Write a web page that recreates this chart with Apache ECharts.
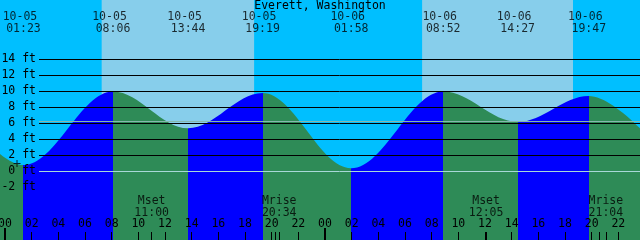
<!DOCTYPE html>
<html><head><meta charset="utf-8">
<script src="https://cdn.jsdelivr.net/npm/echarts@6/dist/echarts.min.js"></script>
<style>html,body{margin:0;padding:0;background:#00BFFF}#c{width:640px;height:240px}</style>
</head><body><div id="c"></div>
<script>
// ---------- data ----------
const chartTitle = 'Everett, Washington';
const extremaDates = ['10-05','10-05','10-05','10-05','10-06','10-06','10-06','10-06'];
const extremaTimes = ['01:23','08:06','13:44','19:19','01:58','08:52','14:27','19:47'];
const extremaHeights = [0.8, 10.0, 5.4, 9.8, 0.4, 10.0, 6.2, 9.45];
// estimated extrema just outside the visible window (hours from 10-05 00:00, ft)
const prevExtremum = [-4.5, 10.2];
const nextExtremum = [50.6, -0.3];
const sunDates = ['10-05','10-06'];
const sunrises = ['07:15','07:17'];
const sunsets = ['18:41','18:36'];
const moonDates = ['10-05','10-05','10-06','10-06'];
const moonEvents = ['Mset','Mrise','Mset','Mrise'];
const moonTimes = ['11:00','20:34','12:05','21:04'];
const extraTickStamps = [['10-05','20:14'],['10-06','20:35']];
const hourTicks = [0,2,4,6,8,10,12,14,16,18,20,22,24,26,28,30,32,34,36,38,40,42,44,46];
const midnightTicks = [0,24];
const yTickLabels = [14,12,10,8,6,4,2,0,-2];
const darkGridLevels = [14,12,10,8,6,4,2];
const lightLevels = [6.3, 0];
const currentPoint = [0.9, 1.0];

// ---------- helpers ----------
function toHours(date, time){
  const day = parseInt(date.slice(3),10) - 5;
  const [hh, mm] = time.split(':').map(Number);
  return day*24 + hh + mm/60;
}
const pad2 = n => (n < 10 ? '0' : '') + n;

const X_MIN = -0.375, X_MAX = 47.625, Y_MIN = -8.5625, Y_MAX = 21.4375;
const GRID_X0 = 2.55;
const FONT = '"DejaVu Sans Mono", "Liberation Mono", monospace';
const FS = 11.5;
const RISE = '#0000FF', FALL = '#2E8B57', NIGHT = '#00BFFF', DAY = '#87CEEB';

const extremaHours = extremaDates.map((d,i) => toHours(d, extremaTimes[i]));
const curve = [prevExtremum].concat(extremaHours.map((h,i) => [h, extremaHeights[i]]), [nextExtremum]);

// rising/falling pieces
const pieces = [];
for (let i = 0; i < curve.length - 1; i++) {
  const rising = curve[i+1][1] > curve[i][1];
  const p = { color: rising ? RISE : FALL };
  if (i === 0) p.lt = curve[1][0];
  else if (i === curve.length - 2) p.gte = curve[i][0];
  else { p.gte = curve[i][0]; p.lt = curve[i+1][0]; }
  pieces.push(p);
}

const dayAreas = sunDates.map((d,i) => [
  { xAxis: toHours(d, sunrises[i]), itemStyle: { color: DAY } },
  { xAxis: toHours(d, sunsets[i]) }
]);
const moonHours = moonDates.map((d,i) => toHours(d, moonTimes[i]));
const extraTicks = moonHours.concat(extraTickStamps.map(s => toHours(s[0], s[1])));

const textBase = { color: '#000', fontFamily: FONT, fontSize: FS };
const baseX = { type: 'value', min: X_MIN, max: X_MAX, position: 'bottom', z: 20,
  axisLine: { show: false, onZero: false }, splitLine: { show: false } };

const option = {
  animation: false,
  backgroundColor: NIGHT,
  grid: { left: 0, right: 0, top: 0, bottom: 0, show: false, containLabel: false, outerBoundsMode: 'none' },
  graphic: [{
    type: 'text', x: 320, y: 6, z: 100,
    style: { text: chartTitle, fill: '#000', font: FS + 'px ' + FONT, align: 'center', verticalAlign: 'middle' }
  }],
  xAxis: [
    Object.assign({}, baseX, {
      axisTick: { show: true, inside: true, length: 8, lineStyle: { color: '#000', width: 1 }, customValues: hourTicks },
      axisLabel: Object.assign({ show: true, inside: true, margin: 10, customValues: hourTicks,
        formatter: v => pad2(((v % 24) + 24) % 24) }, textBase)
    }),
    Object.assign({}, baseX, {
      axisTick: { show: true, inside: true, length: 12, lineStyle: { color: '#000', width: 2 }, customValues: midnightTicks },
      axisLabel: { show: false }
    }),
    Object.assign({}, baseX, {
      axisTick: { show: true, inside: true, length: 8, lineStyle: { color: '#000', width: 1 }, customValues: extraTicks },
      axisLabel: { show: false }
    })
  ],
  yAxis: {
    type: 'value', min: Y_MIN, max: Y_MAX,
    axisLine: { show: false }, axisTick: { show: false }, splitLine: { show: false },
    axisLabel: Object.assign({ inside: true, align: 'right', margin: 36, customValues: yTickLabels,
      formatter: v => v + ' ft' }, textBase),
    z: 20
  },
  visualMap: { type: 'piecewise', show: false, dimension: 0, seriesIndex: 1, pieces: pieces },
  series: [
    { type: 'line', z: 0, data: [[X_MIN, Y_MIN]], symbol: 'none', silent: true, lineStyle: { opacity: 0 },
      markArea: { silent: true, data: dayAreas },
      markLine: { silent: true, symbol: ['none','none'], label: { show: false },
        lineStyle: { color: '#000', width: 1, type: 'solid' },
        data: darkGridLevels.map(v => [{ coord: [GRID_X0, v] }, { coord: [X_MAX, v] }]) } },
    { type: 'line', z: 2, data: curve, smooth: 0.36, smoothMonotone: 'x', symbol: 'none',
      lineStyle: { width: 0, opacity: 0 }, areaStyle: { opacity: 1, origin: 'start' } },
    { type: 'scatter', z: 6, symbolSize: 0, silent: true,
      data: extremaHours.map(h => [h, 18.53]),
      label: { show: true, position: 'inside',
        formatter: p => '{d|' + extremaDates[p.dataIndex] + '}\n{t|' + extremaTimes[p.dataIndex] + '}',
        rich: { d: Object.assign({ padding: [0, 7, 0, 0], lineHeight: 11.5 }, textBase),
                t: Object.assign({ lineHeight: 11.5 }, textBase) } } },
    { type: 'scatter', z: 6, symbolSize: 0, silent: true,
      data: moonHours.map(h => [h, -4.44]),
      label: { show: true, position: 'inside',
        formatter: p => moonEvents[p.dataIndex] + '\n' + moonTimes[p.dataIndex],
        lineHeight: 12, color: '#000', fontFamily: FONT, fontSize: FS } },
    { type: 'scatter', z: 7, silent: true, data: [currentPoint], symbolSize: 7,
      symbol: 'path://M3,0h1v3h3v1h-3v3h-1v-3h-3v-1h3z', itemStyle: { color: '#000' },
      markLine: { silent: true, symbol: ['none','none'], label: { show: false },
        data: lightLevels.map((v,i) => [{ coord: [GRID_X0, v], lineStyle: { color: i === 0 ? '#86b8ad' : '#a8d8d8', width: 1, type: 'solid' } }, { coord: [X_MAX, v] }]) } }
  ]
};
echarts.init(document.getElementById('c'), null, { renderer: 'canvas' }).setOption(option);
</script></body></html>
